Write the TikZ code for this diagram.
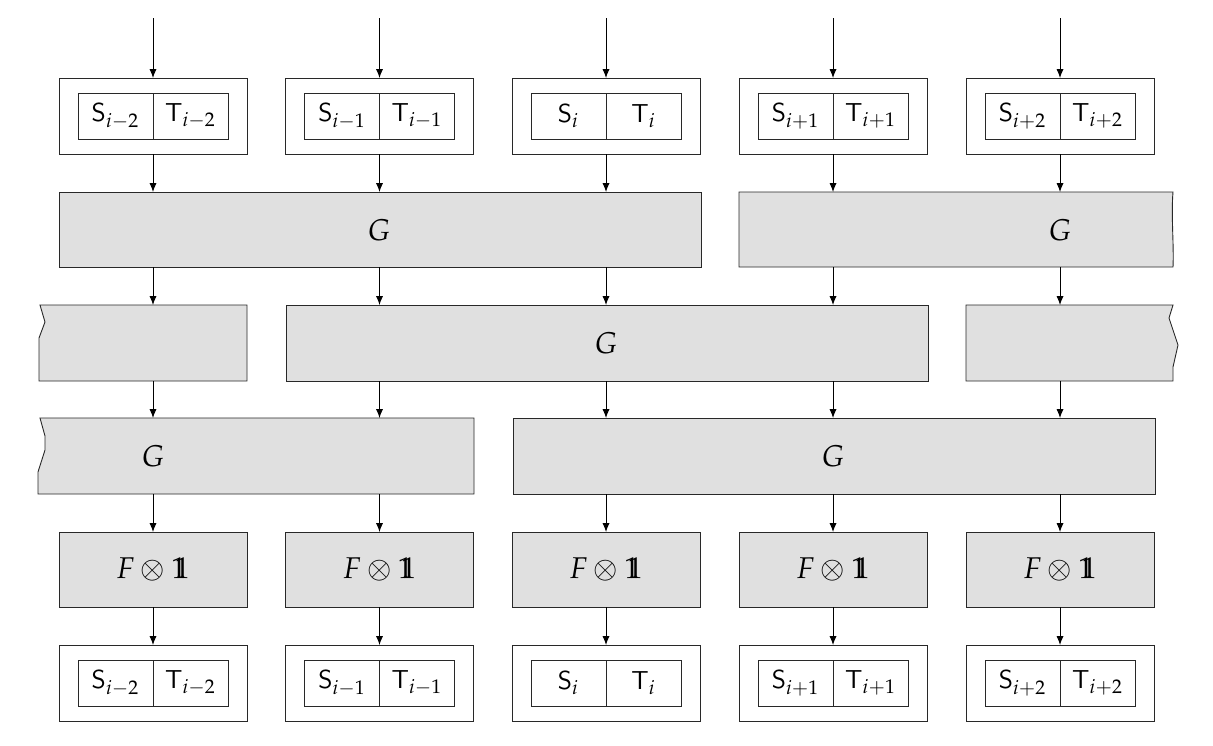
\documentclass[tikz,border=0pt]{standalone}
\usepackage{mathpazo}
\usetikzlibrary{arrows.meta}
\definecolor{gboxgray}{RGB}{224,224,224}
\definecolor{edgec}{RGB}{40,40,40}
\newcommand{\bbone}{\mathrm{1\kern-0.39em 1}}
\begin{document}
\begin{tikzpicture}[x=0.5pt,y=-0.5pt,
  outerbox/.style={draw=edgec, line width=0.45pt, minimum width=94pt, minimum height=38pt, inner sep=0pt, outer sep=0pt, fill=white},
  cell/.style={draw=edgec, line width=0.45pt, minimum width=37.5pt, minimum height=23pt, inner sep=0pt, outer sep=0pt, font=\fontsize{13}{15}\selectfont},
  fbx/.style={draw=edgec, line width=0.45pt, fill=gboxgray, minimum width=94pt, minimum height=37.5pt, inner sep=0pt, outer sep=0pt, font=\fontsize{15}{18}\selectfont},
  gbox/.style={draw=edgec, line width=0.45pt, fill=gboxgray},
  glabel/.style={inner sep=0pt, font=\fontsize{15}{18}\selectfont},
  arr/.style={-{Latex[length=4.5pt,width=3.6pt]}, line width=0.45pt}]
\useasboundingbox (0,0) rectangle (1213,745);
% G rows
\draw[gbox] (59,192) rectangle (701,267);
\draw[gbox] (739,192) -- (1173,192) .. controls (1171,215) and (1174,245) .. (1173,267) -- (739,267) -- cycle;
\draw[gbox] (247,305) -- (40,305) -- (45,322) -- (39,338) -- (39,381) -- (247,381) -- cycle;
\draw[gbox] (286,305) rectangle (928,381);
\draw[gbox] (966,305) -- (1173,305) -- (1169,318) -- (1178,345) -- (1173,367) -- (1173,381) -- (966,381) -- cycle;
\draw[gbox] (474,418) -- (40,418) -- (45,436) -- (45,450) -- (38,472) -- (38,494) -- (474,494) -- cycle;
\draw[gbox] (513,418) rectangle (1155,494);
\node[glabel] (ga) at (379,230) {$G$};
\node[glabel] (gb) at (1060,230) {$G$};
\node[glabel] (gc) at (606,343) {$G$};
\node[glabel] (gd) at (153,456) {$G$};
\node[glabel] (ge) at (833,456) {$G$};
\foreach \k/\cx/\sub in {1/153/{i-2},2/379.5/{i-1},3/606/{i},4/833/{i+1},5/1060/{i+2}} {
  \node[outerbox] (top\k) at (\cx,116) {};
  \node[cell, anchor=east] (ts\k) at (\cx,116) {\textsf{S}$_{\sub}$};
  \node[cell, anchor=west] (tt\k) at (\cx,116) {\textsf{T}$_{\sub}$};
  \node[outerbox] (bot\k) at (\cx,683) {};
  \node[cell, anchor=east] (bs\k) at (\cx,683) {\textsf{S}$_{\sub}$};
  \node[cell, anchor=west] (bt\k) at (\cx,683) {\textsf{T}$_{\sub}$};
  \node[fbx] (f\k) at (\cx,569.5) {$F\otimes\bbone$};
  \coordinate (in\k) at (\cx,18);
  \coordinate (ga\k) at (\cx,192);
  \coordinate (gb\k) at (\cx,267);
  \coordinate (gc\k) at (\cx,305);
  \coordinate (gd\k) at (\cx,381);
  \coordinate (ge\k) at (\cx,418);
  \coordinate (gf\k) at (\cx,494);
  \draw[arr] (in\k) -- (top\k);
  \draw[arr] (top\k) -- (ga\k);
  \draw[arr] (gb\k) -- (gc\k);
  \draw[arr] (gd\k) -- (ge\k);
  \draw[arr] (gf\k) -- (f\k);
  \draw[arr] (f\k) -- (bot\k);
}
\end{tikzpicture}
\end{document}
